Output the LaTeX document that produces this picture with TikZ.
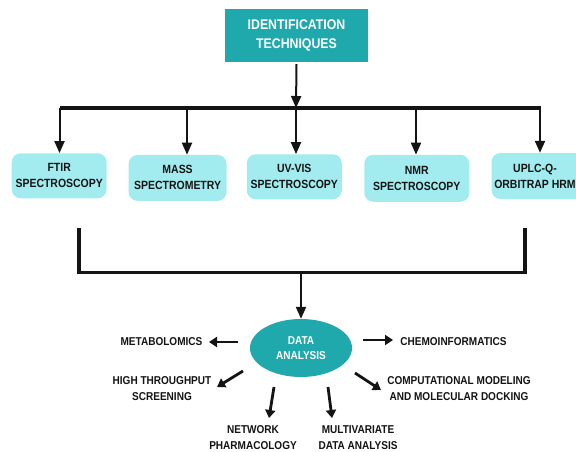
\documentclass[tikz,border=0pt]{standalone}
\usepackage{fontspec}
\newfontfamily\lblfont[FakeStretch=0.88]{Liberation Sans}
\usetikzlibrary{shapes.geometric,arrows.meta}
\definecolor{tealbox}{RGB}{32,169,173}
\definecolor{cyanbox}{RGB}{162,236,239}
\definecolor{inkc}{RGB}{20,20,20}
\begin{document}
\begin{tikzpicture}[x=1pt,y=-1pt,
  lbl/.style={font=\lblfont\bfseries\fontsize{11.4}{16}\selectfont, align=center, text=inkc, inner sep=0pt},
  techbox/.style={fill=cyanbox, rounded corners=9pt, minimum height=45pt, inner sep=0pt,
    font=\lblfont\bfseries\fontsize{11.9}{16}\selectfont, align=center, text=inkc},
  downarr/.style={line width=2pt, draw=inkc, -{Triangle[length=12pt,width=10pt]}},
  thickline/.style={line width=3.4pt, draw=inkc},
  outarr/.style={line width=2.8pt, draw=inkc, -{Triangle[length=8pt,width=10pt]}}]
\useasboundingbox (0,0) rectangle (576,452);
\clip (0,0) rectangle (576,452);
\fill[white] (0,0) rectangle (576,452);

% top box
\node[fill=tealbox, minimum width=143pt, minimum height=53pt, inner sep=0pt, text=white,
  font=\lblfont\bfseries\fontsize{14}{19}\selectfont, align=center] (top) at (296.5,35.5)
  {IDENTIFICATION\\TECHNIQUES};

% bus
\coordinate (busL) at (59.5,108);
\coordinate (busR) at (541,108);
\coordinate (busC) at (296,108);
\coordinate (b2) at (187,108);
\coordinate (b4) at (416,108);
\draw[thickline] (busL) -- (busR);
\draw[downarr] (top.south) ++(0,2) -- (busC);

% technique boxes
\node[techbox, minimum width=95pt] (ftir) at (59.2,175.8) {FTIR\\SPECTROSCOPY};
\node[techbox, minimum width=98pt, minimum height=46pt] (mass) at (177.6,177.9) {MASS\\SPECTROMETRY};
\node[techbox, minimum width=95pt] (uvvis) at (294.3,176.8) {UV-VIS\\SPECTROSCOPY};
\node[techbox, minimum width=105pt, minimum height=47pt] (nmr) at (416.8,178.3) {NMR\\SPECTROSCOPY};
\node[techbox, minimum width=95pt, minimum height=46pt] (uplc) at (539,176) {};
\node[techbox, fill=none, minimum height=0pt] (uplctext) at (535,176) {UPLC-Q-\\ORBITRAP HRM};

\draw[downarr] (busL) -- (busL |- ftir.north);
\draw[downarr] (b2) -- (b2 |- mass.north);
\draw[downarr] (busC) -- (busC |- uvvis.north);
\draw[downarr] (b4) -- (b4 |- nmr.north);
\draw[downarr] (busR) ++(-1,0) coordinate (b5) -- (b5 |- uplc.north);

% bracket
\coordinate (brL) at (79,228);
\coordinate (brR) at (525,228);
\coordinate (brC) at (301,272.5);
\draw[thickline, line join=miter] (brL) -- (79,272.5) -- (525,272.5) -- (brR);

% data analysis
\node[ellipse, fill=tealbox, minimum width=102pt, minimum height=58pt, inner sep=0pt, text=white,
  font=\lblfont\bfseries\fontsize{11.4}{15}\selectfont, align=center] (da) at (301,348) {DATA\\ANALYSIS};
\draw[downarr] (brC) -- (da.north);

% outputs
\node[lbl] (metab) at (161.5,342) {METABOLOMICS};
\node[lbl] (chemo) at (453.5,342) {CHEMOINFORMATICS};
\node[lbl] (hts) at (162,389) {HIGH THROUGHPUT\\SCREENING};
\node[lbl] (net) at (253,438) {NETWORK\\PHARMACOLOGY};
\node[lbl] (multi) at (358,438) {MULTIVARIATE\\DATA ANALYSIS};
\node[lbl] (comp) at (459,389) {COMPUTATIONAL MODELING\\AND MOLECULAR DOCKING};

\coordinate (m1) at (238,342); \coordinate (m2) at (209,342);
\coordinate (c1) at (363,340); \coordinate (c2) at (393,340);
\coordinate (h1) at (243,371); \coordinate (h2) at (217,387);
\coordinate (n1) at (274,387); \coordinate (n2) at (269,418);
\coordinate (v1) at (328,387); \coordinate (v2) at (332,418);
\coordinate (k1) at (355,373); \coordinate (k2) at (381,390);
\draw[outarr] (m1) -- (m2);
\draw[outarr] (c1) -- (c2);
\draw[outarr] (h1) -- (h2);
\draw[outarr] (n1) -- (n2);
\draw[outarr] (v1) -- (v2);
\draw[outarr] (k1) -- (k2);
\end{tikzpicture}
\end{document}
